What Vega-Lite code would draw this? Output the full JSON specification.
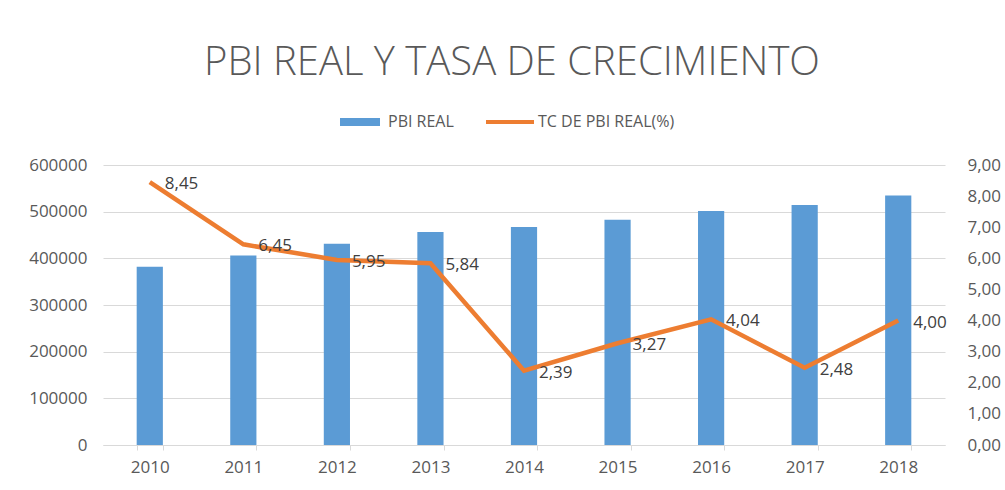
{
  "$schema": "https://vega.github.io/schema/vega-lite/v6.json",
  "width": 842,
  "height": 280,
  "autosize": {"type": "none"},
  "padding": {"left": 103, "top": 165, "right": 60, "bottom": 45},
  "background": "white",
  "config": {
    "font": "Open Sans",
    "view": {"stroke": null},
    "locale": {"number": {"decimal": ",", "thousands": ".", "grouping": [3], "currency": ["", ""]}}
  },
  "title": {
    "text": "PBI REAL Y TASA DE CRECIMIENTO",
    "fontSize": 40,
    "fontWeight": 300,
    "color": "#595959",
    "anchor": "middle",
    "dx": -12,
    "offset": 19
  },
  "data": {
    "values": [
      {"year": "2010", "pbi": 382081, "tc": 8.45},
      {"year": "2011", "pbi": 406256, "tc": 6.45},
      {"year": "2012", "pbi": 431199, "tc": 5.95},
      {"year": "2013", "pbi": 456435, "tc": 5.84},
      {"year": "2014", "pbi": 467308, "tc": 2.39},
      {"year": "2015", "pbi": 482506, "tc": 3.27},
      {"year": "2016", "pbi": 501581, "tc": 4.04},
      {"year": "2017", "pbi": 514215, "tc": 2.48},
      {"year": "2018", "pbi": 534665, "tc": 4.00}
    ]
  },
  "encoding": {
    "x": {
      "field": "year",
      "type": "ordinal",
      "scale": {"paddingInner": 0.72, "paddingOuter": 0.36},
      "axis": {
        "title": null,
        "labelAngle": 0,
        "labelFontSize": 17,
        "labelColor": "#595959",
        "labelPadding": 9,
        "ticks": true,
        "tickBand": "extent",
        "tickSize": 5,
        "tickColor": "#d9d9d9",
        "domainColor": "#d9d9d9",
        "domainWidth": 1,
        "grid": false
      }
    }
  },
  "layer": [
    {
      "mark": {"type": "bar", "color": "#5b9bd5"},
      "encoding": {
        "y": {
          "field": "pbi",
          "type": "quantitative",
          "scale": {"domain": [0, 600000], "nice": false},
          "axis": {
            "title": null,
            "format": "d",
            "values": [0, 100000, 200000, 300000, 400000, 500000, 600000],
            "labelFontSize": 17,
            "labelColor": "#595959",
            "labelPadding": 16,
            "ticks": false,
            "domain": false,
            "gridColor": "#d9d9d9",
            "gridWidth": 1
          }
        },
        "color": {
          "datum": "PBI REAL",
          "type": "nominal",
          "scale": {"domain": ["PBI REAL", "TC DE PBI REAL(%)"], "range": ["#5b9bd5", "#ed7d31"]},
          "legend": {
            "title": null,
            "orient": "none",
            "legendX": 237,
            "legendY": -63,
            "direction": "horizontal",
            "labelFontSize": 16,
            "labelColor": "#595959",
            "symbolSize": 1600,
            "columnPadding": 32,
            "labelOffset": 8,
            "encode": {
              "symbols": {
                "update": {
                  "shape": {"signal": "datum.value === 'PBI REAL' ? 'M-1,-0.2H1V0.2H-1Z' : 'M-1.2,-0.1H1.2V0.1H-1.2Z'"},
                  "fill": {"signal": "datum.value === 'PBI REAL' ? '#5b9bd5' : '#ed7d31'"},
                  "stroke": {"value": "transparent"},
                  "strokeWidth": {"value": 0}
                }
              }
            }
          }
        }
      }
    },
    {
      "encoding": {
        "y": {
          "field": "tc",
          "type": "quantitative",
          "scale": {"domain": [0, 9], "nice": false},
          "axis": {
            "orient": "right",
            "title": null,
            "format": ".2f",
            "values": [0, 1, 2, 3, 4, 5, 6, 7, 8, 9],
            "labelFontSize": 17,
            "labelColor": "#595959",
            "labelPadding": 22,
            "ticks": false,
            "domain": false,
            "gridColor": "#efefef",
            "gridWidth": 1
          }
        }
      },
      "layer": [
        {
          "mark": {"type": "line", "strokeWidth": 4.5, "color": "#ed7d31"},
          "encoding": {
            "color": {
              "datum": "TC DE PBI REAL(%)",
              "type": "nominal",
              "scale": {"domain": ["PBI REAL", "TC DE PBI REAL(%)"], "range": ["#5b9bd5", "#ed7d31"]}
            }
          }
        },
        {
          "mark": {"type": "text", "align": "left", "baseline": "middle", "dx": 15, "dy": 2, "fontSize": 17, "color": "#404040"},
          "encoding": {
            "text": {"field": "tc", "type": "quantitative", "format": ".2f"}
          }
        }
      ]
    }
  ],
  "resolve": {"scale": {"y": "independent"}}
}
